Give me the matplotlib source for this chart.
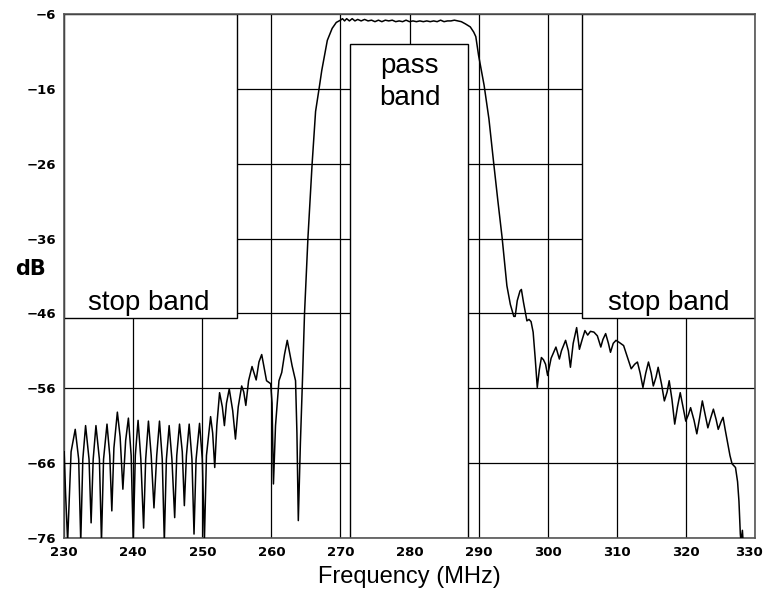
import matplotlib.pyplot as plt
import matplotlib.transforms as mtransforms
from matplotlib.patches import Rectangle

# filter response (MHz, dB)
freq = [230.0, 230.2, 230.5, 231.0, 231.6, 232.1, 232.4, 232.7, 233.1, 233.6,
        233.9, 234.2, 234.6, 235.1, 235.4, 235.7, 236.2, 236.6, 236.9, 237.2,
        237.7, 238.1, 238.5, 238.9, 239.3, 239.7, 240.0, 240.3, 240.7, 241.1,
        241.5, 241.8, 242.2, 242.6, 243.0, 243.4, 243.8, 244.2, 244.5, 244.8,
        245.2, 245.6, 246.0, 246.3, 246.7, 247.1, 247.4, 247.7, 248.1, 248.5,
        248.8, 249.1, 249.6, 250.0, 250.3, 250.6, 251.2, 251.5, 251.8, 252.1,
        252.5, 252.9, 253.2, 253.5, 253.9, 254.4, 254.8, 255.2, 255.7, 256.0,
        256.3, 256.7, 257.2, 257.5, 257.8, 258.2, 258.6, 258.9, 259.3, 259.9,
        260.1, 260.3, 260.6, 261.1, 261.5, 261.9, 262.3, 262.7, 263.0, 263.5,
        263.7, 263.9, 264.2, 264.5, 264.8, 265.3, 265.9, 266.4, 266.9, 267.3,
        267.6, 268.1, 268.8, 269.4, 270.0, 270.3, 270.6, 270.9, 271.3, 271.7,
        272.1, 272.5, 273.0, 273.5, 274.0, 274.5, 275.0, 275.5, 276.0, 276.5,
        277.0, 277.5, 278.0, 278.5, 279.0, 279.5, 280.0, 280.5, 281.0, 281.5,
        282.0, 282.5, 283.0, 283.5, 284.0, 284.5, 285.0, 285.5, 286.0, 286.5,
        287.0, 287.5, 288.1, 288.8, 289.3, 289.6, 290.0, 290.4, 290.8, 291.5,
        292.2, 292.8, 293.4, 294.1, 294.6, 295.1, 295.3, 295.6, 296.0, 296.2,
        296.5, 297.0, 297.3, 297.6, 297.9, 298.2, 298.5, 298.8, 299.1, 299.4,
        299.7, 300.0, 300.5, 301.2, 301.7, 302.0, 302.6, 303.0, 303.3, 303.7,
        304.2, 304.6, 305.0, 305.4, 305.8, 306.2, 306.7, 307.2, 307.7, 308.0,
        308.4, 308.8, 309.1, 309.5, 309.9, 310.4, 311.0, 311.6, 312.1, 312.6,
        313.0, 313.4, 313.8, 314.2, 314.6, 315.0, 315.3, 315.7, 316.0, 316.5,
        316.9, 317.3, 317.6, 318.0, 318.4, 318.8, 319.2, 319.6, 320.0, 320.4,
        320.7, 321.2, 321.6, 322.0, 322.4, 322.8, 323.2, 323.6, 324.0, 324.4,
        324.7, 325.1, 325.4, 325.7, 326.0, 326.4, 326.7, 327.2, 327.5, 327.7,
        327.9, 328.0, 328.2, 328.3]
level = [-64.5, -70.0, -76.5, -64.5, -61.5, -65.5, -76.5, -65.5, -61.0, -65.5,
         -74.0, -65.5, -61.0, -65.5, -76.5, -65.5, -60.8, -65.0, -72.4, -64.0,
         -59.2, -62.5, -69.5, -63.0, -60.0, -65.0, -76.5, -65.0, -60.3, -65.5,
         -74.7, -65.5, -60.4, -65.0, -72.0, -65.0, -60.4, -65.5, -76.5, -65.5,
         -61.0, -65.5, -73.3, -65.0, -60.8, -64.5, -71.7, -65.0, -60.8, -65.5,
         -75.5, -65.5, -60.7, -65.5, -76.5, -65.0, -59.8, -62.0, -66.6, -61.0,
         -56.6, -58.5, -61.0, -58.0, -56.1, -59.0, -62.8, -58.5, -55.7, -56.5,
         -58.3, -55.0, -53.1, -54.0, -54.9, -52.5, -51.5, -53.0, -55.0, -55.4,
         -58.0, -68.8, -61.0, -55.0, -53.9, -51.5, -49.6, -51.5, -53.0, -55.0,
         -62.0, -73.7, -63.4, -55.0, -46.0, -35.8, -26.0, -19.0, -16.0, -13.5,
         -12.0, -9.5, -7.9, -7.1, -6.8, -6.6, -6.9, -6.6, -6.9, -6.6,
         -6.9, -6.7, -6.9, -6.7, -6.9, -6.8, -7.0, -6.8, -7.0, -6.8,
         -6.9, -6.8, -7.0, -6.9, -7.0, -6.8, -7.0, -6.9, -7.0, -6.9,
         -7.0, -6.9, -7.0, -6.9, -7.0, -6.8, -7.0, -6.9, -6.9, -6.8,
         -6.9, -7.0, -7.3, -7.7, -8.4, -9.0, -11.5, -13.5, -15.5, -20.0,
         -26.0, -31.0, -35.8, -42.3, -44.8, -46.4, -46.4, -44.3, -43.0, -42.8,
         -44.5, -47.0, -46.8, -47.1, -48.5, -52.0, -55.9, -53.5, -51.9, -52.2,
         -52.8, -54.3, -52.0, -50.5, -52.1, -51.0, -49.6, -51.0, -53.2, -50.0,
         -47.9, -50.8, -49.5, -48.3, -48.9, -48.4, -48.5, -49.0, -50.5, -49.5,
         -48.7, -50.0, -51.2, -50.0, -49.6, -49.9, -50.3, -52.0, -53.4, -52.8,
         -52.5, -54.0, -55.9, -54.0, -52.5, -54.0, -55.7, -54.5, -53.2, -55.5,
         -57.7, -56.5, -55.0, -57.5, -60.8, -58.5, -56.6, -58.5, -60.4, -59.5,
         -58.6, -60.3, -62.1, -60.0, -57.7, -59.5, -61.3, -60.0, -58.8, -60.2,
         -61.5, -60.5, -59.9, -61.5, -63.0, -65.0, -66.1, -66.6, -68.5, -71.1,
         -75.5, -76.5, -75.0, -76.5]

x_ticks = [230, 240, 250, 260, 270, 280, 290, 300, 310, 320, 330]
y_ticks = [-76, -66, -56, -46, -36, -26, -16, -6]

# mask boxes: (x0, x1, y0, y1)
stop_left = (230, 255, -46.6, -6)
pass_box = (271.4, 288.4, -76, -10)
stop_right = (305, 330, -46.6, -6)

fig = plt.figure(figsize=(7.64, 5.91), dpi=100)
ax = fig.add_axes([0.084, 0.09, 0.904, 0.886])

ax.set_xlim(230, 330)
ax.set_ylim(-76, -6)
ax.set_xticks(x_ticks)
ax.set_yticks(y_ticks)
ax.tick_params(length=0, labelsize=9.5, pad=6)
for lab in ax.get_xticklabels() + ax.get_yticklabels():
    lab.set_fontweight('bold')
# pull the last x label in so it stays on the canvas
last = ax.get_xticklabels()[-1]
last.set_transform(last.get_transform() +
                   mtransforms.ScaledTranslation(-6 / 100, 0, fig.dpi_scale_trans))
ax.grid(True, color='black', linewidth=0.9)
ax.set_axisbelow(True)
for sp in ax.spines.values():
    sp.set_color('#555555')
    sp.set_linewidth(1.2)

for x0, x1, y0, y1 in [stop_left, pass_box, stop_right]:
    ax.add_patch(Rectangle((x0, y0), x1 - x0, y1 - y0, facecolor='white',
                           edgecolor='black', linewidth=1.0, zorder=2))

ax.plot(freq, level, color='black', linewidth=1.1, zorder=3)

ax.text(242.2, -44.6, 'stop band', fontsize=20, ha='center', va='center',
        family='Liberation Sans', zorder=4)
ax.text(317.5, -44.6, 'stop band', fontsize=20, ha='center', va='center',
        family='Liberation Sans', zorder=4)
ax.text(280.0, -15.0, 'pass\nband', fontsize=20, ha='center', va='center',
        family='Liberation Sans', linespacing=1.3, zorder=4)

ax.set_xlabel('Frequency (MHz)', fontsize=17, family='Liberation Sans', labelpad=5)
fig.text(0.04, 0.545, 'dB', fontsize=15, fontweight='bold', ha='center', va='center')

fig.savefig('out.png', dpi=100)
